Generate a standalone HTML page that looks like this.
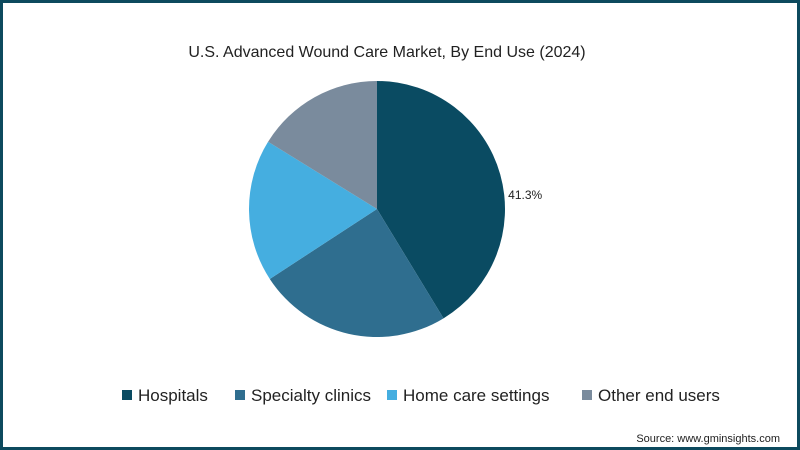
<!DOCTYPE html>
<html><head><meta charset="utf-8"><style>
body{margin:0;width:800px;height:450px;overflow:hidden;background:#fff;font-family:"Liberation Sans",sans-serif}
#frame{position:absolute;left:0;top:0;width:794px;height:444px;border:3px solid #0d4a5e;background:#fff}
</style></head><body>
<div id="frame"></div>
<svg width="800" height="450" style="position:absolute;left:0;top:0" id="chart">
<text x="387" y="57" text-anchor="middle" font-size="16" fill="#222">U.S. Advanced Wound Care Market, By End Use (2024)</text>
<g id="slices"></g>
<g id="legend"></g>
<text x="780" y="442" text-anchor="end" font-size="11" fill="#222">Source: www.gminsights.com</text>
</svg>
<script>
const categories=["Hospitals","Specialty clinics","Home care settings","Other end users"];
const values=[41.3,24.5,18.0,16.2];
const labels=["41.3%","","",""];
const colors=["#0a4b62","#2f6e8f","#45aee0","#7a8b9d"];
const NS="http://www.w3.org/2000/svg";
const cx=377,cy=209,r=128;
const total=values.reduce((a,b)=>a+b,0);
let a0=0;
const sg=document.getElementById('slices');
values.forEach((v,i)=>{
  const a1=a0+v/total*2*Math.PI;
  const p=(a)=>[cx+r*Math.sin(a),cy-r*Math.cos(a)];
  const [x0,y0]=p(a0),[x1,y1]=p(a1);
  const path=document.createElementNS(NS,'path');
  path.setAttribute('d',`M${cx},${cy}L${x0},${y0}A${r},${r} 0 ${a1-a0>Math.PI?1:0} 1 ${x1},${y1}Z`);
  path.setAttribute('fill',colors[i]);
  
  
  sg.appendChild(path);
  if(labels[i]){
    const am=(a0+a1)/2+0.16;
    const t=document.createElementNS(NS,'text');
    t.setAttribute('x',cx+(r+4)*Math.sin(am));
    t.setAttribute('y',cy-(r+4)*Math.cos(am)+5);
    t.setAttribute('font-size','12');t.setAttribute('fill','#222');
    t.textContent=labels[i];
    
    
    sg.appendChild(t);
  }
  a0=a1;
});
const lg=document.getElementById('legend');
const lx=[122,235,387,582];
categories.forEach((c,i)=>{
  const g=document.createElementNS(NS,'g');
  
  
  const rc=document.createElementNS(NS,'rect');
  rc.setAttribute('x',lx[i]);rc.setAttribute('y',390);rc.setAttribute('width',10);rc.setAttribute('height',10);rc.setAttribute('fill',colors[i]);
  const t=document.createElementNS(NS,'text');
  t.setAttribute('x',lx[i]+16);t.setAttribute('y',401);t.setAttribute('font-size','17');t.setAttribute('fill','#222');
  t.textContent=c;
  g.appendChild(rc);g.appendChild(t);lg.appendChild(g);
});
</script>
</body></html>
